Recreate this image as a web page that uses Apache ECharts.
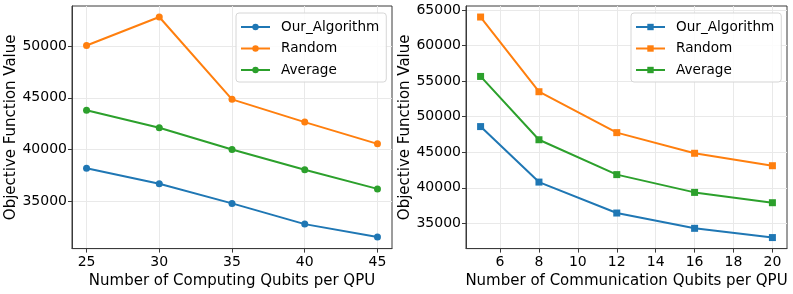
<!DOCTYPE html>
<html>
<head>
<meta charset="utf-8">
<script src="https://cdn.jsdelivr.net/npm/echarts@6/dist/echarts.min.js"></script>
<style>
html,body{margin:0;padding:0;background:#fff;}
#chart{width:793px;height:294px;}
</style>
</head>
<body>
<div id="chart"></div>
<script>
// ---- Data ----
const seriesNames = ['Our_Algorithm', 'Random', 'Average'];
const colors = ['#1f77b4', '#ff7f0e', '#2ca02c'];

// Left: Number of Computing Qubits per QPU
const computingQubits = [25, 30, 35, 40, 45];
const leftOurAlgorithm = [38200, 36700, 34800, 32800, 31550];
const leftRandom = [50050, 52800, 44850, 42650, 40550];
const leftAverage = [43800, 42100, 40000, 38050, 36200];
const leftXTicks = [25, 30, 35, 40, 45];
const leftYTicks = [35000, 40000, 45000, 50000];

// Right: Number of Communication Qubits per QPU
const communicationQubits = [5, 8, 12, 16, 20];
const rightOurAlgorithm = [48600, 40800, 36450, 34300, 33000];
const rightRandom = [64000, 53500, 47750, 44850, 43100];
const rightAverage = [55650, 46750, 41850, 39350, 37900];
const rightXTicks = [6, 8, 10, 12, 14, 16, 18, 20];
const rightYTicks = [35000, 40000, 45000, 50000, 55000, 60000, 65000];

const FONT = 'DejaVu Sans';
const AX = '#3a3a3a';
const GRIDC = '#e9e9e9';

function pairs(xs, ys) { return xs.map((x, i) => [x, ys[i]]); }

function xAxisDef(idx, min, max, ticks, name) {
  return {
    type: 'value', gridIndex: idx, min: min, max: max,
    name: name, nameLocation: 'middle', nameGap: 20,
    nameTextStyle: { fontFamily: FONT, fontSize: 15, color: '#000' },
    axisLine: { show: true, lineStyle: { color: AX, width: 1 } },
    axisTick: { show: true, length: 4, lineStyle: { color: AX }, customValues: ticks },
    axisLabel: { fontFamily: FONT, fontSize: 14, color: '#000', margin: 6.5, customValues: ticks, formatter: v => String(v) },
    splitLine: { show: true, lineStyle: { color: GRIDC, width: 1 } }
  };
}
function yAxisDef(idx, min, max, ticks, name, gap) {
  return {
    type: 'value', gridIndex: idx, min: min, max: max,
    name: name, nameLocation: 'middle', nameGap: gap,
    nameTextStyle: { fontFamily: FONT, fontSize: 15, color: '#000' },
    axisLine: { show: true, lineStyle: { color: AX, width: 1 } },
    axisTick: { show: true, length: 4, lineStyle: { color: AX }, customValues: ticks },
    axisLabel: { fontFamily: FONT, fontSize: 14, color: '#000', margin: 5, customValues: ticks, formatter: v => String(v) },
    splitLine: { show: true, lineStyle: { color: GRIDC, width: 1 } }
  };
}
function lineSeries(name, data, color, idx, symbol) {
  return {
    type: 'line', name: name, xAxisIndex: idx, yAxisIndex: idx,
    data: data, symbol: symbol, symbolSize: 7, showSymbol: true,
    lineStyle: { color: color, width: 2 }, itemStyle: { color: color },
    emphasis: { disabled: true }, animation: false, z: 3
  };
}
function legendDef(left, names) {
  return {
    left: left, top: 13, orient: 'vertical',
    data: names,
    formatter: n => n.trim(),
    itemWidth: 29, itemHeight: 8, itemGap: 7.5,
    padding: [7, 7, 5, 4],
    backgroundColor: 'rgba(255,255,255,0.85)',
    borderColor: '#d6d6d6', borderWidth: 1, borderRadius: 3,
    textStyle: { fontFamily: FONT, fontSize: 13.6, color: '#000', padding: [0, 0, 0, 6] },
    selectedMode: false
  };
}

const rightNames = seriesNames.map(n => n + ' ');

const option = {
  animation: false,
  backgroundColor: '#fff',
  grid: [
    { left: 72, top: 6, width: 320, height: 247, show: true, borderColor: AX, borderWidth: 1, backgroundColor: 'transparent' },
    { left: 466, top: 6, width: 321, height: 247, show: true, borderColor: AX, borderWidth: 1, backgroundColor: 'transparent' }
  ],
  xAxis: [
    xAxisDef(0, 24, 46, leftXTicks, 'Number of Computing Qubits per QPU'),
    xAxisDef(1, 4.25, 20.75, rightXTicks, 'Number of Communication Qubits per QPU')
  ],
  yAxis: [
    yAxisDef(0, 30435, 53865, leftYTicks, 'Objective Function Value', 46),
    yAxisDef(1, 31450, 65550, rightYTicks, 'Objective Function Value', 45.5)
  ],
  legend: [
    legendDef(236, seriesNames),
    legendDef(631, rightNames)
  ],
  series: [
    lineSeries(seriesNames[0], pairs(computingQubits, leftOurAlgorithm), colors[0], 0, 'circle'),
    lineSeries(seriesNames[1], pairs(computingQubits, leftRandom), colors[1], 0, 'circle'),
    lineSeries(seriesNames[2], pairs(computingQubits, leftAverage), colors[2], 0, 'circle'),
    lineSeries(rightNames[0], pairs(communicationQubits, rightOurAlgorithm), colors[0], 1, 'rect'),
    lineSeries(rightNames[1], pairs(communicationQubits, rightRandom), colors[1], 1, 'rect'),
    lineSeries(rightNames[2], pairs(communicationQubits, rightAverage), colors[2], 1, 'rect')
  ]
};

const chart = echarts.init(document.getElementById('chart'), null, { renderer: 'canvas' });
chart.setOption(option);
</script>
</body>
</html>
